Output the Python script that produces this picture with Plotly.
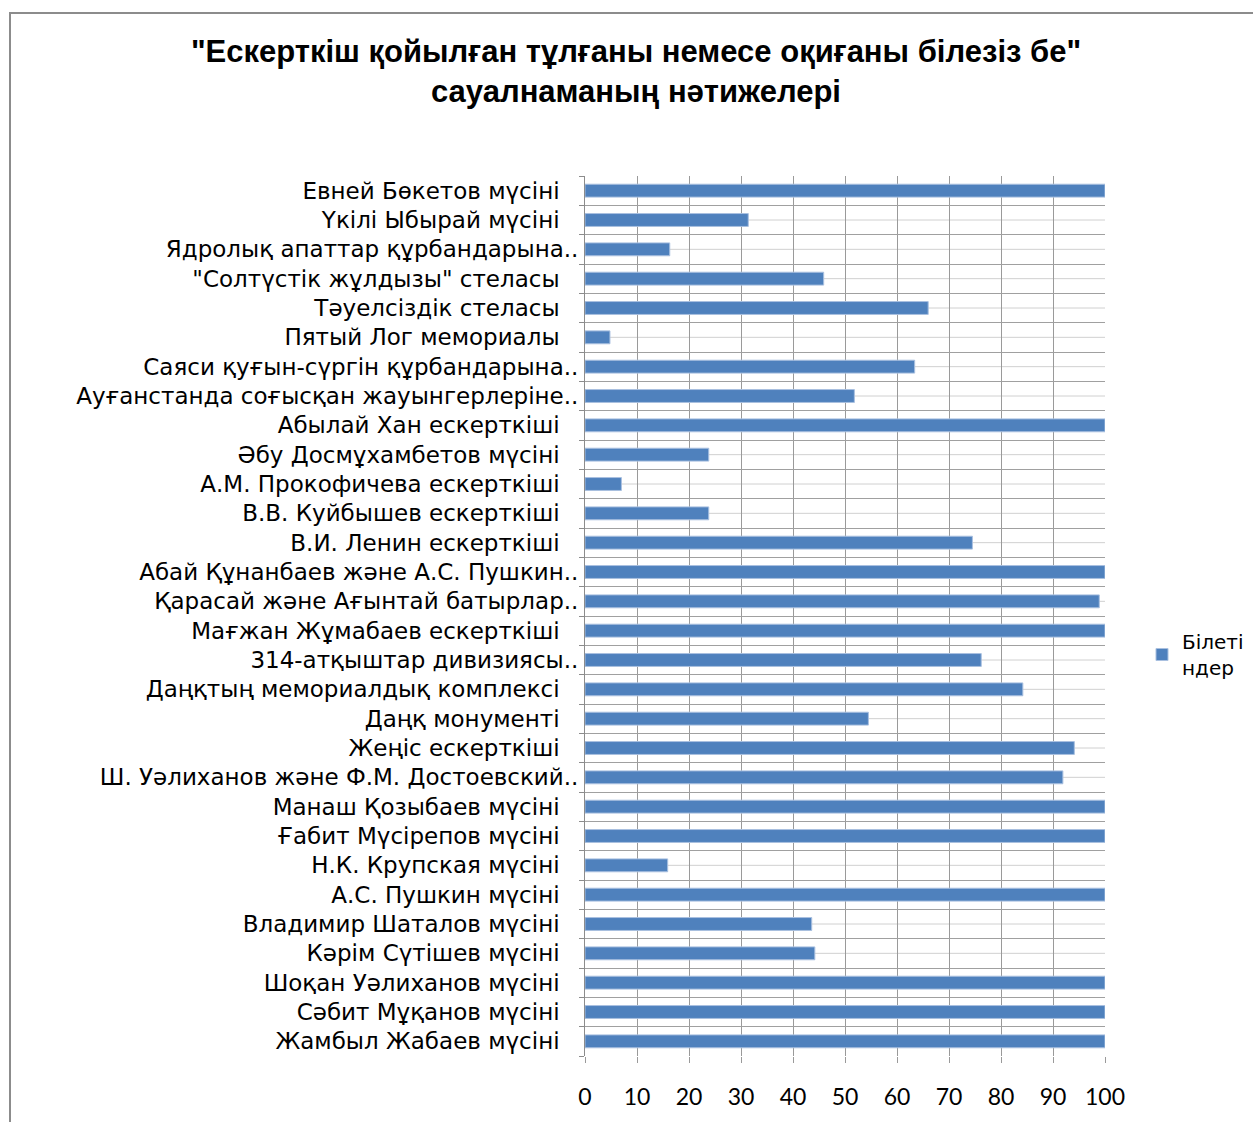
import plotly.graph_objects as go

categories = [
    "Евней Бөкетов мүсіні",
    "Үкілі Ыбырай мүсіні",
    "Ядролық апаттар құрбандарына..",
    "\"Солтүстік жұлдызы\" стеласы",
    "Тәуелсіздік стеласы",
    "Пятый Лог мемориалы",
    "Саяси қуғын-сүргін құрбандарына..",
    "Ауғанстанда соғысқан жауынгерлеріне..",
    "Абылай Хан ескерткіші",
    "Әбу Досмұхамбетов мүсіні",
    "А.М. Прокофичева ескерткіші",
    "В.В. Куйбышев ескерткіші",
    "В.И. Ленин ескерткіші",
    "Абай Құнанбаев және А.С. Пушкин..",
    "Қарасай және Ағынтай батырлар..",
    "Мағжан Жұмабаев ескерткіші",
    "314-атқыштар дивизиясы..",
    "Даңқтың мемориалдық комплексі",
    "Даңқ монументі",
    "Жеңіс ескерткіші",
    "Ш. Уәлиханов және Ф.М. Достоевский..",
    "Манаш Қозыбаев мүсіні",
    "Ғабит Мүсірепов мүсіні",
    "Н.К. Крупская мүсіні",
    "А.С. Пушкин мүсіні",
    "Владимир Шаталов мүсіні",
    "Кәрім Сүтішев мүсіні",
    "Шоқан Уәлиханов мүсіні",
    "Сәбит Мұқанов мүсіні",
    "Жамбыл Жабаев мүсіні",
]

values = [100, 31.4, 16.3, 45.9, 66, 4.8, 63.4, 51.8, 100, 23.8,
          7, 23.8, 74.5, 100, 98.9, 100, 76.2, 84.2, 54.5, 94.1,
          91.9, 100, 100, 15.9, 100, 43.6, 44.2, 100, 100, 100]

series_name = "Білеті<br>ндер"
title_text = "\"Ескерткіш қойылған тұлғаны немесе оқиғаны білезіз бе\"<br>сауалнаманың нәтижелері"
x_ticks = [0, 10, 20, 30, 40, 50, 60, 70, 80, 90, 100]

# tick text: full labels carry a trailing space like the original, truncated ones end with ".."
tick_text = [c if c.endswith("..") else c + "\u2002\u00a0" for c in categories]

W, H = 1253, 1122
ml, mr, mt, mb = 585, 148, 176, 66

fig = go.Figure()
fig.add_trace(go.Bar(
    x=values, y=categories, orientation="h", name=series_name,
    marker=dict(color="#4F81BD", line=dict(color="#A9C0E0", width=1)),
    width=0.44, showlegend=True,
))

shapes = []
for c in categories:
    shapes.append(dict(type="line", xref="paper", x0=0, x1=1, yref="y", y0=c, y1=c,
                       line=dict(color="#D0D0D0", width=1), layer="below"))
pw, ph = W - ml - mr, H - mt - mb
shapes.append(dict(type="rect", xref="paper", yref="paper",
                   x0=(10 - ml) / pw, x1=(1300 - ml) / pw,
                   y0=(H - mb - 1200) / ph, y1=(H - mb - 13) / ph,
                   line=dict(color="#8C8C8C", width=2), layer="below"))

fig.update_layout(
    width=W, height=H,
    margin=dict(l=ml, r=mr, t=mt, b=mb, pad=0, autoexpand=False),
    paper_bgcolor="white", plot_bgcolor="white",
    font=dict(family="DejaVu Sans", size=23, color="#000000"),
    title=dict(text=title_text, x=636 / W, xanchor="center",
               y=1 - 62 / H, yanchor="top", yref="container",
               font=dict(family="Liberation Sans", size=31, color="#000000", weight="bold")),
    xaxis=dict(range=[0, 100], tickvals=x_ticks, showgrid=True, gridcolor="#9A9A9A", gridwidth=1,
               zeroline=False, showline=False, ticks="outside", ticklen=6, tickcolor="#9A9A9A",
               ticklabelstandoff=14, tickfont=dict(size=23, family="Lato")),
    yaxis=dict(autorange="reversed", type="category", tickson="boundaries",
               tickmode="array", tickvals=categories, ticktext=tick_text,
               showgrid=True, gridcolor="#A0A0A0", gridwidth=1,
               showline=True, linecolor="#8C8C8C", linewidth=1,
               ticks="outside", ticklen=5, tickcolor="#8C8C8C",
               ticklabelstandoff=1, tickfont=dict(size=23, family="DejaVu Sans")),
    legend=dict(x=(1142 - ml) / pw, y=(H - mb - 622) / ph, xanchor="left", yanchor="top",
                font=dict(size=20, family="DejaVu Sans", color="#000000"),
                bgcolor="rgba(0,0,0,0)", itemwidth=30),
    shapes=shapes,
    bargap=0.56,
)

fig.write_html("out.html", config={"displayModeBar": False},
               post_script="document.body.style.margin='0';")
